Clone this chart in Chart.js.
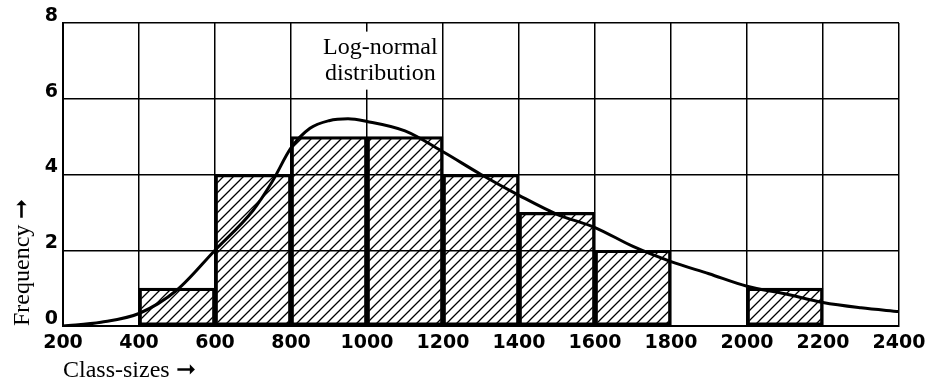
<!DOCTYPE html>
<html>
<head>
<meta charset="utf-8">
<script src="https://cdn.jsdelivr.net/npm/chart.js@4/dist/chart.umd.min.js"></script>
<style>
  html, body { margin: 0; padding: 0; background: #fff; }
  #wrap { width: 928px; height: 383px; }
</style>
</head>
<body>
<div id="wrap"><canvas id="histo" width="928" height="383"></canvas></div>
<script>
// classes (lower bound of each 200-wide class) and their frequencies
const classStarts = [400, 600, 800, 1000, 1200, 1400, 1600, 1800, 2000];
const frequencies = [1, 4, 5, 5, 4, 3, 2, 0, 1];
const classWidth = 200;

// fitted log-normal curve
const curveX = [200, 300, 400, 500, 600, 700, 750, 800, 850, 900, 950, 1000, 1100, 1200,
                1300, 1400, 1500, 1600, 1700, 1800, 1900, 2000, 2100, 2200, 2300, 2400];
const curveY = [0.0, 0.1, 0.33, 0.95, 2.0, 3.05, 3.8, 4.7, 5.22, 5.42, 5.47, 5.4, 5.15, 4.6,
                4.0, 3.45, 2.95, 2.6, 2.1, 1.7, 1.38, 1.05, 0.85, 0.62, 0.48, 0.38];

const xTicks = [200, 400, 600, 800, 1000, 1200, 1400, 1600, 1800, 2000, 2200, 2400];
const yTicks = [0, 2, 4, 6, 8];

const curveLabel = ['Log-normal', 'distribution'];
const curveLabelAt = { x: 1035, y: 7.35 };

// diagonal hatching for the bars
function hatchPattern() {
    const c = document.createElement('canvas');
    c.width = 10; c.height = 10;
    const g = c.getContext('2d');
    g.strokeStyle = '#000';
    g.lineWidth = 1.3;
    g.beginPath();
    g.moveTo(-2, 12); g.lineTo(12, -2);
    g.moveTo(-2, 2); g.lineTo(2, -2);
    g.moveTo(8, 12); g.lineTo(12, 8);
    g.stroke();
    return g.createPattern(c, 'repeat');
}

const bars = classStarts
    .map((s, i) => ({ x: s + classWidth / 2, y: frequencies[i] }))
    .filter(p => p.y > 0);
const curve = curveX.map((x, i) => ({ x: x, y: curveY[i] }));

const serif = '"Liberation Serif", "DejaVu Serif", serif';

// curve caption on a white patch over the grid
const curveText = {
    id: 'curveText',
    beforeDatasetsDraw(chart) {
        const ctx = chart.ctx;
        const px = chart.scales.x.getPixelForValue(curveLabelAt.x);
        const py = chart.scales.y.getPixelForValue(curveLabelAt.y);
        ctx.save();
        ctx.font = '24px ' + serif;
        const w = Math.max(...curveLabel.map(t => ctx.measureText(t).width));
        ctx.fillStyle = '#fff';
        ctx.fillRect(px - w / 2 - 4, py - 16, w + 8, 26 * curveLabel.length + 6);
        ctx.fillStyle = '#000';
        ctx.textAlign = 'center';
        ctx.textBaseline = 'middle';
        curveLabel.forEach((t, i) => ctx.fillText(t, px, py + i * 26));
        ctx.restore();
    }
};

Chart.defaults.color = '#000';

const tickFont = { family: '"DejaVu Sans"', weight: 'bold', size: 19 };

new Chart(document.getElementById('histo'), {
    type: 'bar',
    data: {
        datasets: [{
            type: 'line',
            data: curve,
            borderColor: '#000',
            borderWidth: 3,
            pointRadius: 0,
            cubicInterpolationMode: 'monotone',
            fill: false,
            order: 0
        }, {
            type: 'bar',
            data: bars,
            backgroundColor: hatchPattern(),
            borderColor: '#000',
            borderWidth: 2.5,
            borderSkipped: false,
            barPercentage: 1,
            categoryPercentage: 1,
            order: 1
        }]
    },
    options: {
        responsive: false,
        animation: false,
        events: [],
        layout: { padding: { top: 23, right: 29, left: 0, bottom: 0 } },
        plugins: { legend: { display: false }, tooltip: { enabled: false } },
        scales: {
            x: {
                type: 'linear',
                min: 200,
                max: 2400,
                offset: false,
                afterBuildTicks: s => { s.ticks = xTicks.map(v => ({ value: v })); },
                afterFit: s => { s.height = 57; s.paddingLeft = 0; s.paddingRight = 0; },
                grid: { color: '#000', lineWidth: 1.5, drawTicks: false, offset: false },
                border: { color: '#000', width: 2 },
                ticks: {
                    padding: 6,
                    autoSkip: false,
                    maxRotation: 0,
                    font: tickFont,
                    callback: v => String(v)
                },
                title: {
                    display: true,
                    text: 'Class-sizes \u279E',
                    align: 'start',
                    padding: { top: 0, bottom: 0 },
                    font: { family: serif, size: 24, lineHeight: 1 }
                }
            },
            y: {
                min: 0,
                max: 8,
                afterBuildTicks: s => { s.ticks = yTicks.map(v => ({ value: v })); },
                afterFit: s => { s.width = 63; },
                grid: { color: '#000', lineWidth: 1.5, drawTicks: false },
                border: { color: '#000', width: 2 },
                ticks: {
                    padding: 5,
                    labelOffset: -7,
                    font: tickFont,
                    callback: v => String(v)
                },
                title: {
                    display: true,
                    text: 'Frequency \u279E',
                    align: 'start',
                    padding: { top: 8, bottom: 0 },
                    font: { family: serif, size: 24 }
                }
            }
        }
    },
    plugins: [curveText]
});
</script>
</body>
</html>
